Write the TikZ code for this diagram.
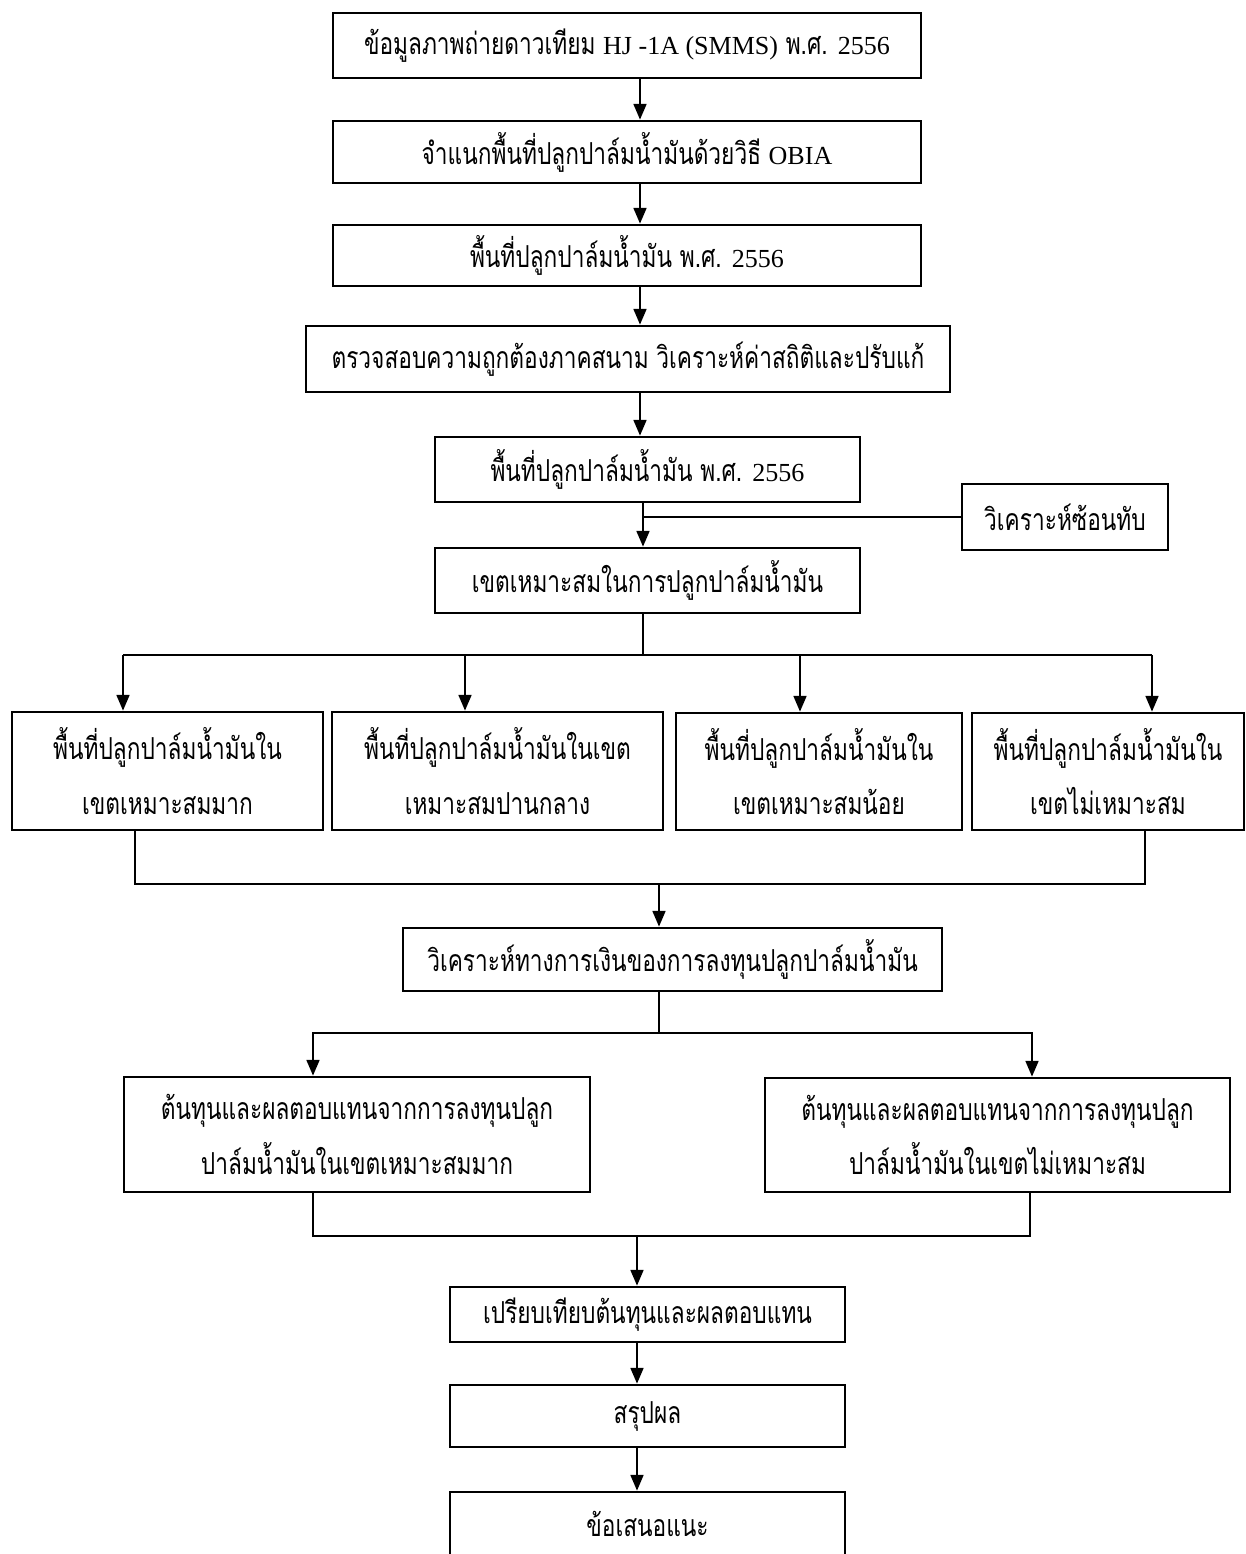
\documentclass[tikz,border=0pt]{standalone}
\usepackage{fontspec}
\setmainfont{Liberation Serif}
\newfontfamily\thaifont[Script=Thai,FakeStretch=0.75]{Loma}
\newcommand\latn[1]{{\rmfamily\fontsize{7.4}{15.4}\selectfont #1}}
\usetikzlibrary{arrows.meta}

\tikzset{
  box/.style={draw, line width=0.7pt, align=center, inner sep=0pt,
    font=\thaifont\fontsize{8.6}{15.4}\selectfont},
  arr/.style={line width=0.75pt, -{Triangle[length=4.5pt,width=3.6pt]}},
  ln/.style={line width=0.75pt}
}

\begin{document}
\begin{tikzpicture}[x=0.01cm, y=-0.01cm]
\useasboundingbox (0,0) rectangle (1245,1554);

\node[box, minimum width=5.88cm, minimum height=0.65cm] (n1) at (627,45.5)
  {ข้อมูลภาพถ่ายดาวเทียม \latn{HJ -1A (SMMS)} พ.ศ. \latn{2556}};
\node[box, minimum width=5.88cm, minimum height=0.62cm] (n2) at (627,152)
  {จำแนกพื้นที่ปลูกปาล์มน้ำมันด้วยวิธี \latn{OBIA}};
\node[box, minimum width=5.88cm, minimum height=0.61cm] (n3) at (627,255.5)
  {พื้นที่ปลูกปาล์มน้ำมัน พ.ศ. \latn{2556}};
\node[box, minimum width=6.44cm, minimum height=0.66cm] (n4) at (628,359)
  {ตรวจสอบความถูกต้องภาคสนาม วิเคราะห์ค่าสถิติและปรับแก้};
\node[box, minimum width=4.25cm, minimum height=0.65cm] (n5) at (647.5,469.5)
  {พื้นที่ปลูกปาล์มน้ำมัน พ.ศ. \latn{2556}};
\node[box, minimum width=2.06cm, minimum height=0.66cm] (n6) at (1065,517)
  {วิเคราะห์ซ้อนทับ};
\node[box, minimum width=4.25cm, minimum height=0.65cm] (n7) at (647.5,580.5)
  {เขตเหมาะสมในการปลูกปาล์มน้ำมัน};

\node[box, minimum width=3.11cm, minimum height=1.18cm] (za) at (167.5,771)
  {พื้นที่ปลูกปาล์มน้ำมันใน\\เขตเหมาะสมมาก};
\node[box, minimum width=3.31cm, minimum height=1.18cm] (zb) at (497.5,771)
  {พื้นที่ปลูกปาล์มน้ำมันในเขต\\เหมาะสมปานกลาง};
\node[box, minimum width=2.86cm, minimum height=1.17cm] (zc) at (819,771.5)
  {พื้นที่ปลูกปาล์มน้ำมันใน\\เขตเหมาะสมน้อย};
\node[box, minimum width=2.72cm, minimum height=1.17cm] (zd) at (1108,771.5)
  {พื้นที่ปลูกปาล์มน้ำมันใน\\เขตไม่เหมาะสม};

\node[box, minimum width=5.39cm, minimum height=0.63cm] (n8) at (672.5,959.5)
  {วิเคราะห์ทางการเงินของการลงทุนปลูกปาล์มน้ำมัน};
\node[box, minimum width=4.66cm, minimum height=1.15cm] (ze) at (357,1134.5)
  {ต้นทุนและผลตอบแทนจากการลงทุนปลูก\\ปาล์มน้ำมันในเขตเหมาะสมมาก};
\node[box, minimum width=4.65cm, minimum height=1.14cm] (zf) at (997.5,1135)
  {ต้นทุนและผลตอบแทนจากการลงทุนปลูก\\ปาล์มน้ำมันในเขตไม่เหมาะสม};

\node[box, minimum width=3.95cm, minimum height=0.55cm] (n9) at (647.5,1314.5)
  {เปรียบเทียบต้นทุนและผลตอบแทน};
\node[box, minimum width=3.95cm, minimum height=0.62cm] (n10) at (647.5,1416)
  {สรุปผล};
\node[box, minimum width=3.95cm, minimum height=0.64cm] (n11) at (647.5,1524)
  {ข้อเสนอแนะ};

\coordinate (sx) at (640,0);
\coordinate (sy) at (643,0);
\coordinate (j1) at (659,884);
\coordinate (j2) at (659,1033);
\coordinate (j3) at (637,1236);

\draw[arr] (n1.south -| sx) -- (n2.north -| sx);
\draw[arr] (n2.south -| sx) -- (n3.north -| sx);
\draw[arr] (n3.south -| sx) -- (n4.north -| sx);
\draw[arr] (n4.south -| sx) -- (n5.north -| sx);
\draw[arr] (n5.south -| sy) -- (n7.north -| sy);
\draw[ln] (n6.west) -- (n6.west -| sy);

\draw[ln] (n7.south -| sy) -- (643,655);
\draw[ln] (123,655) -- (1152,655);
\foreach \n/\x in {za/123, zb/465, zc/800, zd/1152}
  \draw[arr] (\x,655) -- (\n.north -| \x,0);

\draw[ln] (za.south -| 135,0) |- (j1) -| (zd.south -| 1145,0);
\draw[arr] (j1) -- (n8.north -| j1);

\draw[ln] (n8.south -| j2) -- (j2);
\draw[arr] (j2) -| (ze.north -| 313,0);
\draw[arr] (j2) -| (zf.north -| 1032,0);

\draw[ln] (ze.south -| 313,0) |- (j3) -| (zf.south -| 1030,0);
\draw[arr] (j3) -- (n9.north -| j3);
\draw[arr] (n9.south -| j3) -- (n10.north -| j3);
\draw[arr] (n10.south -| j3) -- (n11.north -| j3);

\end{tikzpicture}
\end{document}
